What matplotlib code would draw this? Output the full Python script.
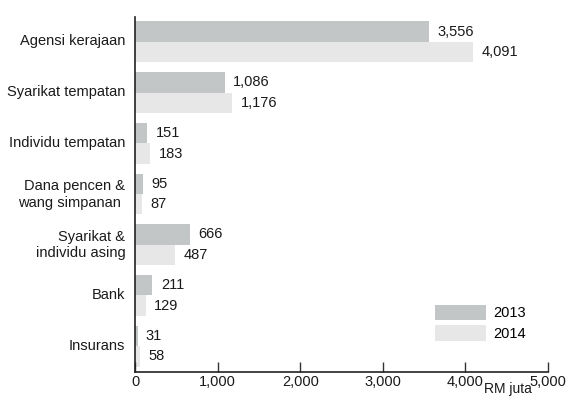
import matplotlib
matplotlib.use("Agg")
import matplotlib.pyplot as plt
import matplotlib.transforms as mtransforms
import numpy as np

categories = ["Agensi kerajaan", "Syarikat tempatan", "Individu tempatan",
              "Dana pencen &\nwang simpanan ", "Syarikat &\nindividu asing",
              "Bank", "Insurans"]
values_2013 = [3556, 1086, 151, 95, 666, 211, 31]
values_2014 = [4091, 1176, 183, 87, 487, 129, 58]
series_labels = ["2013", "2014"]
xticks = [0, 1000, 2000, 3000, 4000, 5000]
xtick_labels = ["0", "1,000", "2,000", "3,000", "4,000", "5,000"]

plt.rcParams['font.family'] = ['Liberation Sans', 'DejaVu Sans']
plt.rcParams['font.size'] = 10.5

fig = plt.figure(figsize=(5.66, 3.96), dpi=100)
ax = fig.add_axes([135/566, 1-372/396, 413/566, 355/396])

y = np.arange(len(categories))
h = 0.404
c13 = "#c3c6c6"
c14 = "#e6e7e6"
b1 = ax.barh(y - h/2, values_2013, height=h, color=c13, label=series_labels[0])
b2 = ax.barh(y + h/2, values_2014, height=h, color=c14, label=series_labels[1])

ax.bar_label(b1, labels=[f"{v:,}" for v in values_2013], padding=6, fontsize=10.5, color="#1a1a1a")
ax.bar_label(b2, labels=[f"{v:,}" for v in values_2014], padding=6, fontsize=10.5, color="#1a1a1a")

ax.set_xlim(0, 5000)
ax.set_ylim(6.51, -0.49)
ax.set_yticks(y)
ax.set_yticklabels(categories, multialignment='right')
ax.tick_params(axis='y', length=0, pad=7, labelcolor="#1a1a1a")
offset = mtransforms.ScaledTranslation(0, 2/100, fig.dpi_scale_trans)
for lab in ax.get_yticklabels():
    lab.set_transform(lab.get_transform() + offset)
ax.set_xticks(xticks)
ax.set_xticklabels(xtick_labels)
ax.tick_params(axis='x', direction='in', length=7, width=1, color="#333333", pad=2, labelcolor="#1a1a1a")

for s in ["top", "right"]:
    ax.spines[s].set_visible(False)
ax.spines["left"].set_linewidth(1.2)
ax.spines["bottom"].set_linewidth(1.2)
ax.spines["left"].set_color("#222222")
ax.spines["bottom"].set_color("#222222")

ax.legend(loc='upper left', bbox_to_anchor=(0.726, 0.19), frameon=False,
          borderpad=0, borderaxespad=0, handlelength=3.5, handleheight=1.3,
          labelspacing=0.3, handletextpad=0.5, fontsize=10.5)

fig.text(508/566, 0.001, "RM juta", ha='center', va='bottom', fontsize=10, color="#1a1a1a")

fig.savefig("out.png", dpi=100)
